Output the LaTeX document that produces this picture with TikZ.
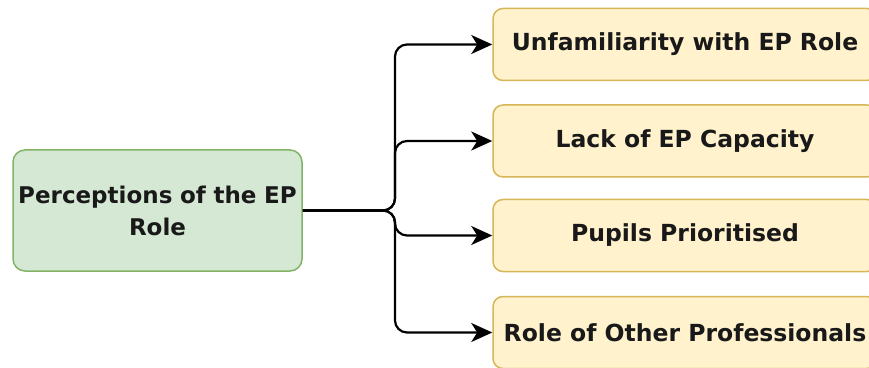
\documentclass[tikz,border=0pt]{standalone}
\usepackage{fontspec}
\setmainfont{DejaVu Sans}
\usepackage{tikz}
\usetikzlibrary{arrows.meta}
\usetikzlibrary{calc}
\usepackage{xcolor}
\definecolor{rootfill}{HTML}{D5E8D4}
\definecolor{rootline}{HTML}{82B366}
\definecolor{leaffill}{HTML}{FFF2CC}
\definecolor{leafline}{HTML}{D6B656}

\begin{document}
\begin{tikzpicture}[x=1pt, y=1pt]
        % ================= 样式定义 =================
        \tikzset{
            % 左侧主题框:浅绿底绿边圆角矩形
            rootbox/.style={rectangle, rounded corners=12pt, draw=rootline, line width=1.5pt, fill=rootfill, minimum width=289pt, minimum height=121pt, text width=287pt, align=center, inner sep=0pt, text=black!90, font=\fontsize{23}{32}\selectfont\bfseries},
            % 右侧子主题框:浅黄底黄边圆角矩形
            leafbox/.style={rectangle, rounded corners=10pt, draw=leafline, line width=1.5pt, fill=leaffill, minimum width=384pt, minimum height=72pt, inner sep=0pt, text=black!90, font=\fontsize{23.5}{28}\selectfont\bfseries},
            % 全黑连线,带实心箭头
            link/.style={line width=2.2pt, black, rounded corners=12pt, -{Stealth[length=21pt, width=19pt, inset=6pt]}}
        }

        % 画布大小 (右侧框被截断)
        \useasboundingbox (0,0) rectangle (869,367);
        \clip (0,0) rectangle (869,367);

        % ================= 节点 =================
        \node[rootbox] (perc) at (157.5,156.5) {Perceptions of the EP\\Role};

        \node[leafbox] (unfam) at (685,322.5) {Unfamiliarity with EP Role};
        \node[leafbox] (cap) at (685,226) {Lack of EP Capacity};
        \node[leafbox] (pupil) at (685,131.5) {Pupils Prioritised};
        \node[leafbox] (other) at (685,34.5) {Role of Other Professionals};

        % 分叉点
        \coordinate (fork) at (395,156.5);

        % ================= 连线 =================
        \foreach \target in {unfam, cap, pupil, other} {
            \draw[link] (perc.east) -- (fork) |- (\target.west);
        }

    \end{tikzpicture}
\end{document}
